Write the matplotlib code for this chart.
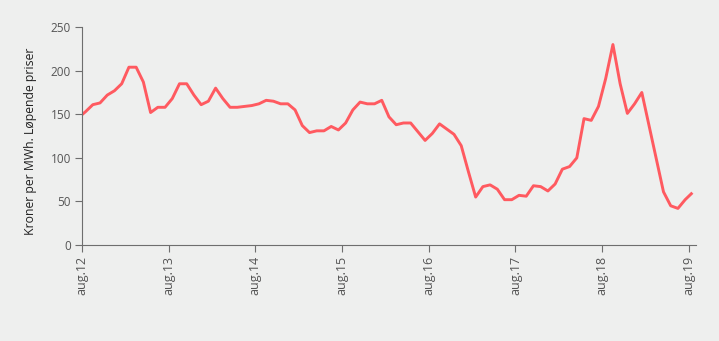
import matplotlib
matplotlib.use("Agg")
import matplotlib.pyplot as plt
import numpy as np

# Monthly power price, NOK per MWh (current prices), jul.12 - aug.19
prices = [
    146, 153, 161, 163, 172, 177, 185, 204, 204, 187, 152, 158, 158,   # jul.12 - jul.13
    168, 185, 185, 172, 161, 165, 180, 168, 158, 158, 159, 160,        # aug.13 - jul.14
    162, 166, 165, 162, 162, 155, 137, 129, 131, 131, 136, 132,        # aug.14 - jul.15
    140, 155, 164, 162, 162, 166, 147, 138, 140, 140, 130, 120,        # aug.15 - jul.16
    128, 139, 133, 127, 114, 84, 55, 67, 69, 64, 52, 52,               # aug.16 - jul.17
    57, 56, 68, 67, 62, 70, 87, 90, 100, 145, 143, 159,                # aug.17 - jul.18
    191, 230, 185, 151, 162, 175, 137, 99, 61, 45, 42, 52, 60,         # aug.18 - aug.19
]
tick_labels = ["aug.12", "aug.13", "aug.14", "aug.15", "aug.16",
               "aug.17", "aug.18", "aug.19"]
y_label = "Kroner per MWh. Løpende priser"

bg = "#eeefee"
line_color = "#ff5a60"
axis_color = "#6e6e6e"
text_color = "#555555"

plt.rcParams["font.family"] = ["Open Sans", "DejaVu Sans"]

fig = plt.figure(figsize=(7.19, 3.41), dpi=100, facecolor=bg)
ax = fig.add_axes([0.114, 0.2815, 0.854, 0.639], facecolor=bg)

# each month plotted at its centre; tick marks sit at month starts
x = np.arange(len(prices)) - 0.5
ax.plot(x, prices, color=line_color, lw=2.1, solid_joinstyle="round",
        solid_capstyle="butt")

ax.set_xlim(0, 85)
ax.set_ylim(0, 250)
ax.set_yticks(np.arange(0, 251, 50))
ax.set_xticks(np.arange(len(tick_labels)) * 12)
ax.set_xticklabels(tick_labels, rotation=90)

for side in ("top", "right"):
    ax.spines[side].set_visible(False)
for side in ("left", "bottom"):
    ax.spines[side].set_color(axis_color)
    ax.spines[side].set_linewidth(0.8)

ax.tick_params(axis="both", colors=axis_color, labelcolor=text_color,
               length=5, width=0.8)
ax.tick_params(axis="y", labelsize=8.5, pad=3)
ax.tick_params(axis="x", labelsize=9, pad=3)

ax.set_ylabel(y_label, fontsize=8.8, color="#222222")
ax.yaxis.set_label_coords(-0.073, 0.477)

fig.savefig("out.png", dpi=100, facecolor=bg)
